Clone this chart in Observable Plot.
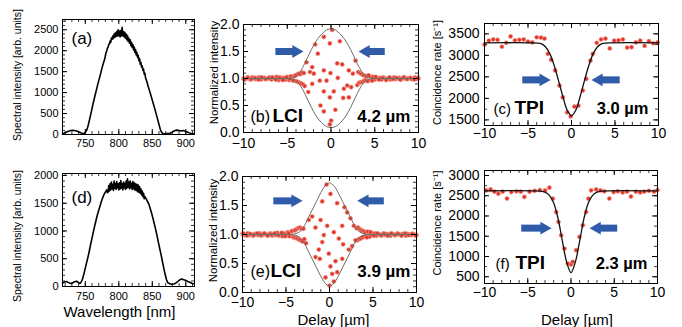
<!DOCTYPE html>
<html><head><meta charset="utf-8">
<script src="https://cdn.jsdelivr.net/npm/d3@7"></script>
<script src="https://cdn.jsdelivr.net/npm/@observablehq/plot@0.6"></script>
<style>
body{margin:0;background:#fff;}
#fig{position:relative;width:682px;height:327px;overflow:hidden;background:#fff;}
#fig svg{position:absolute;overflow:visible;}
</style></head><body><div id="fig"></div>
<script>
// ---------- DATA ----------
// (a) spectrum [nm, intensity]
const specA = [[716,20],[719,35],[722,60],[725,80],[728,95],[731,100],[734,95],[737,85],[740,65],[743,40],[746,25],[749,30],[751,70],[753,140],[755,260],[757,400],[759,540],[761,690],[763,830],[765,960],[767,1090],[769,1220],[771,1340],[773,1460],[775,1590],[777,1700],[779,1800],
[780,1880],[781,1960],[782,1990],[783,2060],[784,2080],[785,2150],[786,2160],[787,2230],[788,2200],[789,2300],[790,2270],[791,2350],[792,2290],[793,2400],[794,2320],[795,2430],[796,2340],[797,2460],[798,2350],[799,2500],[800,2360],[801,2470],[802,2330],[803,2480],[804,2360],[805,2560],[806,2350],[807,2460],[808,2330],[809,2440],[810,2300],[811,2400],[812,2260],[813,2360],[814,2220],[815,2300],[816,2180],[817,2260],[818,2120],[819,2200],[820,2080],[821,2150],[822,2020],[823,2090],[824,1960],[825,2030],[826,1900],[827,1960],[828,1840],[829,1890],[830,1760],[831,1810],[832,1680],[833,1720],[834,1610],[835,1640],[836,1530],[837,1560],[838,1440],[839,1460],[840,1350],
[842,1260],[844,1140],[846,1040],[848,930],[850,820],[852,710],[854,600],[856,480],[858,360],[860,240],[862,120],[864,50],[866,20],[869,15],[872,20],[875,25],[878,40],[881,70],[884,95],[887,105],[890,95],[893,85],[896,95],[899,80],[902,60],[905,40],[908,25],[911,20]];
// (d) spectrum
const specD = [[716,60],[719,80],[722,90],[725,70],[728,55],[731,65],[734,85],[737,95],[740,70],[742,55],[744,80],[746,140],[748,230],[750,330],[752,430],[754,530],[756,640],[758,760],[760,870],[762,980],[764,1090],[766,1190],[768,1290],[770,1370],[772,1450],[774,1530],[776,1600],[778,1660],[780,1700],[782,1740],[783,1690],
[784,1700],[785,1820],[786,1720],[787,1850],[788,1740],[789,1880],[790,1760],[791,1840],[792,1730],[793,1900],[794,1770],[795,1860],[796,1750],[797,1890],[798,1780],[799,1850],[800,1740],[801,1870],[802,1760],[803,1910],[804,1770],[805,1850],[806,1740],[807,1880],[808,1780],[809,1860],[810,1750],[811,1900],[812,1770],[813,1940],[814,1790],[815,1880],[816,1760],[817,1900],[818,1780],[819,1860],[820,1750],[821,1890],[822,1760],[823,1870],[824,1740],[825,1850],[826,1730],[827,1840],[828,1710],[829,1830],[830,1700],[831,1800],[832,1680],[833,1760],[834,1650],[835,1720],[836,1620],[837,1680],[838,1580],
[839,1620],[841,1580],[843,1530],[845,1480],[847,1400],[849,1320],[851,1230],[853,1130],[855,1030],[857,920],[859,800],[861,690],[863,580],[865,460],[867,340],[869,230],[871,130],[873,70],[876,50],[879,40],[882,45],[885,60],[888,90],[891,120],[894,135],[897,120],[900,110],[903,90],[906,75],[909,60],[912,50]];

// (b) LCI points [delay um, normalized intensity]
const lciBOuter = [[-10,1.00],[-9.8,0.99],[-9.6,1.01],[-9.4,1.00],[-9.2,0.98],[-9,1.02],[-8.8,1.00],[-8.6,0.99],[-8.4,1.01],[-8.2,1.02],[-8,0.98],[-7.8,1.00],[-7.6,1.01],[-7.4,0.99],[-7.2,1.00],[-7,1.02],[-6.8,0.98],[-6.6,1.01],[-6.4,0.99],[-6.2,1.03],[-6,0.97],[-5.8,1.02],[-5.6,0.99],[-5.4,1.01],[-5.2,0.98],[-5,1.03],[-4.8,0.97],[-4.6,1.04],[-4.4,0.97],[-4.2,1.05],
[-9.9,0.98],[-9.5,1.02],[-9.1,0.99],[-8.7,1.01],[-8.3,0.98],[-7.9,1.02],[-7.5,0.99],[-7.1,1.01],[-6.7,1.02],[-6.3,0.98],[-5.9,1.01],[-5.5,0.97],[-5.1,1.02],[-4.7,0.99],[-4.3,0.96],
[-4.1,1.05],[-4.0,0.95],[-3.9,1.07],[-3.8,0.94],[-3.7,1.09],[-3.6,0.92],[-3.5,1.08],[-3.4,0.91],[-3.3,1.11],[-3.2,0.89],[-3.1,1.10],[-3.0,0.86],
[3.0,0.88],[3.1,1.12],[3.2,0.92],[3.3,1.10],[3.4,0.93],[3.5,1.08],[3.6,0.94],[3.7,1.06],[3.8,0.96],[3.9,1.05],[4.0,0.97],[4.1,1.04],
[4.2,0.95],[4.4,1.04],[4.6,0.97],[4.8,1.03],[5,0.98],[5.2,1.02],[5.4,0.99],[5.6,1.01],[5.8,0.98],[6,1.02],[6.2,1.00],[6.4,0.99],[6.6,1.01],[6.8,0.98],[7,1.00],[7.2,1.02],[7.4,0.99],[7.6,1.00],[7.8,1.01],[8,0.98],[8.2,1.00],[8.4,1.02],[8.6,0.99],[8.8,1.00],[9,1.01],[9.2,0.99],[9.4,1.00],[9.6,1.02],[9.8,0.99],[10,1.00],
[4.3,1.06],[4.7,0.96],[5.1,1.03],[5.5,0.98],[5.9,1.01],[6.3,0.97],[6.7,1.02],[7.1,0.99],[7.5,1.01],[7.9,0.98],[8.3,1.02],[8.7,0.99],[9.1,1.01],[9.5,0.98],[9.9,1.01]];
const lciBInner = [[-2.8,1.30],[-2.6,0.75],[-2.4,1.12],[-2.15,1.21],[-2.15,0.90],[-1.96,1.09],[-1.81,1.63],[-1.5,1.46],[-1.28,0.96],[-1.2,0.50],[-0.82,1.77],[-0.82,1.15],[-0.82,0.76],[-0.82,0.39],[-0.51,0.96],[-0.13,1.65],[-0.13,0.65],[-0.13,0.15],[-0.06,1.10],[0.02,0.22],[0.13,1.90],[0.32,0.76],[0.5,0.42],[0.71,1.28],[0.78,1.01],[1.01,1.69],[1.28,1.26],[1.39,0.64],[1.47,0.81],[1.85,0.87],[2.04,1.15],[2.04,0.65],[2.3,0.84],[2.5,1.09],[2.8,1.33]];
const lciBUpper = [[-10,1],[-5,1.0],[-4.5,1.01],[-4,1.04],[-3.5,1.13],[-3,1.28],[-2.5,1.45],[-2,1.61],[-1.5,1.74],[-1,1.83],[-0.5,1.90],[0,1.92],[0.5,1.90],[1,1.83],[1.5,1.74],[2,1.61],[2.5,1.45],[3,1.28],[3.5,1.13],[4,1.04],[4.5,1.01],[5,1.0],[10,1]];
const lciBLower = [[-10,1],[-5,1.0],[-4.5,0.99],[-4,0.96],[-3.5,0.87],[-3,0.72],[-2.5,0.55],[-2,0.39],[-1.5,0.26],[-1,0.17],[-0.5,0.11],[0,0.09],[0.5,0.11],[1,0.17],[1.5,0.26],[2,0.39],[2.5,0.55],[3,0.72],[3.5,0.87],[4,0.96],[4.5,0.99],[5,1.0],[10,1]];

// (e) LCI points
const lciEOuter = [[-10,1.01],[-9.8,0.99],[-9.6,1.00],[-9.4,1.02],[-9.2,0.99],[-9,1.00],[-8.8,0.98],[-8.6,1.01],[-8.4,1.00],[-8.2,0.99],[-8,1.02],[-7.8,0.98],[-7.6,1.00],[-7.4,1.01],[-7.2,0.99],[-7,1.00],[-6.8,1.02],[-6.6,0.98],[-6.4,1.01],[-6.2,0.99],[-6,1.03],[-5.8,0.98],[-5.6,1.01],[-5.4,0.97],[-5.2,1.02],[-5,0.98],[-4.8,1.04],[-4.6,0.97],[-4.4,1.05],[-4.2,0.96],
[-9.9,1.02],[-9.5,0.98],[-9.1,1.01],[-8.7,0.99],[-8.3,1.02],[-7.9,0.99],[-7.5,1.02],[-7.1,0.98],[-6.7,1.00],[-6.3,1.02],[-5.9,0.99],[-5.5,1.03],[-5.1,0.97],[-4.7,1.02],[-4.3,1.06],
[-4.1,0.95],[-4.0,1.07],[-3.9,0.94],[-3.8,1.09],[-3.7,0.93],[-3.6,1.11],[-3.5,0.91],[-3.4,1.12],[-3.3,0.90],[-3.2,1.10],[-3.1,0.88],
[3.1,1.11],[3.2,0.90],[3.3,1.12],[3.4,0.92],[3.5,1.09],[3.6,0.93],[3.7,1.07],[3.8,0.95],[3.9,1.06],[4.0,0.96],[4.1,1.04],
[4.2,0.97],[4.4,1.05],[4.6,0.96],[4.8,1.03],[5,0.99],[5.2,1.02],[5.4,0.98],[5.6,1.01],[5.8,1.00],[6,0.98],[6.2,1.02],[6.4,0.99],[6.6,1.01],[6.8,1.00],[7,0.98],[7.2,1.01],[7.4,1.00],[7.6,0.99],[7.8,1.02],[8,1.00],[8.2,0.99],[8.4,1.01],[8.6,1.00],[8.8,0.98],[9,1.01],[9.2,1.00],[9.4,0.99],[9.6,1.01],[9.8,1.00],[10,0.99],
[4.3,0.95],[4.7,1.04],[5.1,0.98],[5.5,1.02],[5.9,0.99],[6.3,1.01],[6.7,0.98],[7.1,1.02],[7.5,0.99],[7.9,1.01],[8.3,0.98],[8.7,1.02],[9.1,0.99],[9.5,1.01],[9.9,0.98]];
const lciEInner = [[-3.0,1.10],[-2.9,0.92],[-2.7,0.85],[-2.38,1.25],[-1.99,1.31],[-1.61,1.12],[-1.61,0.61],[-1.23,0.74],[-1.11,0.58],[-1.03,1.25],[-0.84,1.57],[-0.84,0.87],[-0.65,0.99],[-0.46,0.26],[-0.34,1.86],[-0.27,1.15],[-0.08,0.67],[0.0,0.12],[0.11,1.70],[0.11,0.45],[0.31,0.32],[0.5,1.04],[0.5,0.19],[0.69,0.54],[0.88,1.54],[0.88,0.35],[1.07,0.93],[1.46,1.15],[1.46,0.58],[1.57,0.83],[1.72,1.47],[2.03,1.38],[2.22,0.74],[2.41,1.28],[2.6,0.80],[2.8,1.15],[3.0,0.90]];
const lciEUpper = [[-10,1],[-4.5,1.0],[-4,1.01],[-3.5,1.04],[-3,1.12],[-2.5,1.27],[-2,1.42],[-1.5,1.57],[-1,1.72],[-0.5,1.84],[0,1.89],[0.5,1.84],[1,1.72],[1.5,1.57],[2,1.42],[2.5,1.27],[3,1.12],[3.5,1.04],[4,1.01],[4.5,1.0],[10,1]];
const lciELower = [[-10,1],[-4.5,1.0],[-4,0.99],[-3.5,0.96],[-3,0.88],[-2.5,0.73],[-2,0.58],[-1.5,0.43],[-1,0.28],[-0.5,0.16],[0,0.11],[0.5,0.16],[1,0.28],[1.5,0.43],[2,0.58],[2.5,0.73],[3,0.88],[3.5,0.96],[4,0.99],[4.5,1.0],[10,1]];

// (c) TPI [delay um, coincidence rate]
const tpiC = [[-10,3250],[-9.5,3340],[-9,3370],[-8.5,3360],[-8,3200],[-7.5,3290],[-7,3440],[-6.5,3350],[-6,3360],[-5.5,3370],[-5,3320],[-4.5,3300],[-4,3420],[-3.5,3410],[-3.1,3390],[-2.72,3035],[-2.34,2895],[-1.88,2650],[-1.38,2297],[-1.0,2025],[-0.5,1676],[-0.1,1580],[0.34,1809],[0.8,1830],[1.3,2181],[1.69,2453],[2.18,2879],[2.45,3035],[2.9,3290],[3.4,3370],[3.9,3390],[4.4,3160],[4.9,3340],[5.4,3350],[5.9,3370],[6.4,3180],[6.9,3190],[7.4,3300],[7.9,3340],[8.4,3220],[8.9,3330],[9.4,3280],[9.9,3300]];
const tpiCFit = [[-10,3290],[-4,3285],[-3.5,3270],[-3,3200],[-2.5,3040],[-2,2770],[-1.5,2420],[-1,2050],[-0.5,1730],[0,1600],[0.5,1730],[1,2050],[1.5,2420],[2,2770],[2.5,3040],[3,3200],[3.5,3270],[4,3285],[10,3290]];
// (f) TPI
const tpiF = [[-9.8,2631],[-9.3,2656],[-8.85,2600],[-8.4,2549],[-7.9,2600],[-7.4,2430],[-6.9,2590],[-6.3,2610],[-5.8,2600],[-5.4,2470],[-4.8,2600],[-4.2,2620],[-3.6,2640],[-3.0,2631],[-2.5,2700],[-2.1,2427],[-1.71,2097],[-1.45,1851],[-1.14,1524],[-0.75,1196],[-0.37,827],[0,803],[0.2,868],[0.6,1155],[0.98,1483],[1.37,1770],[1.75,2097],[2.02,2427],[2.33,2631],[2.9,2656],[3.4,2631],[3.85,2610],[4.43,2430],[4.93,2590],[5.4,2610],[5.97,2580],[6.47,2600],[6.93,2480],[7.5,2600],[8.0,2580],[8.47,2600],[9.0,2620],[9.6,2600],[10,2640]];
const tpiFFit = [[-10,2620],[-3.5,2615],[-3,2590],[-2.5,2510],[-2,2320],[-1.5,1940],[-1,1380],[-0.5,860],[0,600],[0.5,860],[1,1380],[1.5,1940],[2,2320],[2.5,2510],[3,2590],[3.5,2615],[10,2620]];

// arrows {y, tail, tip}
const arrowsB = [{y:1.5, tail:-6.3, tip:-3.15},{y:1.5, tail:6.2, tip:3.15}];
const arrowsC = [{y:2430, tail:-5.6, tip:-2.4},{y:2430, tail:5.6, tip:2.3}];
const arrowsE = [{y:1.58, tail:-6.4, tip:-3.1},{y:1.58, tail:6.3, tip:3.2}];
const arrowsF = [{y:1700, tail:-5.7, tip:-2.25},{y:1700, tail:5.4, tip:2.15}];

// ticks
const specTicksX = [750,800,850,900];
const specMinorX = [720,730,740,750,760,770,780,790,800,810,820,830,840,850,860,870,880,890,900,910];
const specATicksY = [0,500,1000,1500,2000,2500];
const specAMinorY = [0,100,200,300,400,500,600,700,800,900,1000,1100,1200,1300,1400,1500,1600,1700,1800,1900,2000,2100,2200,2300,2400,2500,2600,2700];
const specDTicksY = [0,500,1000,1500,2000];
const specDMinorY = [0,100,200,300,400,500,600,700,800,900,1000,1100,1200,1300,1400,1500,1600,1700,1800,1900,2000];
const delayTicks = [-10,-5,0,5,10];
const delayMinor = [-10,-9,-8,-7,-6,-5,-4,-3,-2,-1,0,1,2,3,4,5,6,7,8,9,10];
const normTicks = [0,0.5,1,1.5,2];
const normMinor = [0,0.1,0.2,0.3,0.4,0.5,0.6,0.7,0.8,0.9,1,1.1,1.2,1.3,1.4,1.5,1.6,1.7,1.8,1.9,2];
const rateCTicks = [1500,2000,2500,3000,3500];
const rateCMinor = [1500,1750,2000,2250,2500,2750,3000,3250,3500];
const rateFTicks = [500,1000,1500,2000,2500,3000];
const rateFMinor = [500,750,1000,1250,1500,1750,2000,2250,2500,2750,3000];

// ---------- DRAWING ----------
const FONT = '"Liberation Sans", Arial, Helvetica, sans-serif';
const NARROW = '"Liberation Sans Narrow", "Arial Narrow", "Liberation Sans", Arial, sans-serif';
const RED = "#e2352b", BLUE = "#2f5ba8";
const X = d => d[0], Y = d => d[1];
const fmtInt = d => d < 0 ? "\u2212" + Math.abs(d) : String(d);
const fmt1 = d => d.toFixed(1);
const fig = document.getElementById("fig");

function arrowMarks(arr) {
  const right = arr.filter(d => d.tip > d.tail), left = arr.filter(d => d.tip < d.tail);
  return [
    Plot.ruleY(right, {y: d => d.y, x1: d => d.tail, x2: d => d.tip, insetRight: 8, stroke: BLUE, strokeWidth: 7}),
    Plot.ruleY(left, {y: d => d.y, x1: d => d.tip, x2: d => d.tail, insetLeft: 8, stroke: BLUE, strokeWidth: 7}),
    Plot.dot(right, {x: d => d.tip, y: d => d.y, symbol: "triangle", r: 4.8, rotate: 90, dx: -7.4, fill: BLUE, stroke: "none"}),
    Plot.dot(left, {x: d => d.tip, y: d => d.y, symbol: "triangle", r: 4.8, rotate: -90, dx: 7.4, fill: BLUE, stroke: "none"})
  ];
}

function panel(o) {
  const [sx, sy, W, H] = o.box;
  const [fx0, fy0, fx1, fy1] = o.frame;
  const fw = fx1 - fx0, fh = fy1 - fy0;
  const svg = Plot.plot({
    width: W, height: H,
    marginLeft: fx0 - sx, marginTop: fy0 - sy, marginRight: sx + W - fx1, marginBottom: sy + H - fy1,
    style: {background: "transparent", fontFamily: FONT, overflow: "visible"},
    x: {domain: o.xDomain, label: null},
    y: {domain: o.yDomain, label: null},
    marks: [
      ...o.marks,
      Plot.frame({stroke: "#000", strokeWidth: 1}),
      Plot.tickX(o.xMinor, {x: d => d, insetTop: fh - 3, strokeWidth: 0.8}),
      Plot.tickX(o.xMinor, {x: d => d, insetBottom: fh - 3, strokeWidth: 0.8}),
      Plot.tickX(o.xTicks, {x: d => d, insetTop: fh - 5}),
      Plot.tickX(o.xTicks, {x: d => d, insetBottom: fh - 5}),
      Plot.tickY(o.yMinor, {y: d => d, insetRight: fw - 3, strokeWidth: 0.8}),
      Plot.tickY(o.yMinor, {y: d => d, insetLeft: fw - 3, strokeWidth: 0.8}),
      Plot.tickY(o.yTicks, {y: d => d, insetRight: fw - 5}),
      Plot.tickY(o.yTicks, {y: d => d, insetLeft: fw - 5}),
      Plot.axisX(o.xTicks, {anchor: "bottom", tickSize: 0, tickPadding: o.xPad, fontSize: o.tickFont, tickFormat: o.xFmt, label: null}),
      Plot.axisY(o.yTicks, {anchor: "left", tickSize: 0, tickPadding: o.yPad, fontSize: o.tickFont, tickFormat: o.yFmt, label: null}),
      Plot.text([o.yLabel], {frameAnchor: "left", dx: o.yLabelDx, dy: o.yLabelDy, rotate: -90, textAnchor: "middle", lineAnchor: "middle", fontSize: o.yLabelSize, fontFamily: FONT, fill: "#000"}),
      ...(o.extra || [])
    ]
  });
  svg.style.position = "absolute";
  svg.style.left = sx + "px";
  svg.style.top = sy + "px";
  fig.appendChild(svg);
}

function lciMarks(outer, inner, upper, lower, arrows) {
  return [
    Plot.dot(outer.concat(inner), {x: X, y: Y, r: 2.1, fill: RED, stroke: "#f3a493", strokeWidth: 0.6}),
    Plot.line(upper, {x: X, y: Y, stroke: "#6e6e66", strokeWidth: 1, curve: "catmull-rom"}),
    Plot.line(lower, {x: X, y: Y, stroke: "#6e6e66", strokeWidth: 1, curve: "catmull-rom"}),
    ...arrowMarks(arrows)
  ];
}
function tpiMarks(pts, fit, arrows) {
  return [
    Plot.dot(pts, {x: X, y: Y, r: 2.1, fill: RED, stroke: "#f3a493", strokeWidth: 0.6}),
    Plot.line(fit, {x: X, y: Y, stroke: "#111", strokeWidth: 1.3, curve: "catmull-rom"}),
    ...arrowMarks(arrows)
  ];
}
function cornerLabels(letter, name, width, dy, dxL, dxN, dxW, fsL, fsN, fsW) {
  return [
    Plot.text([letter], {frameAnchor: "bottom-left", dx: dxL, dy: dy, textAnchor: "start", lineAnchor: "bottom", fontSize: fsL, fontFamily: FONT, fill: "#000"}),
    Plot.text([name], {frameAnchor: "bottom-left", dx: dxN, dy: dy, textAnchor: "start", lineAnchor: "bottom", fontSize: fsN, fontWeight: "bold", fontFamily: FONT, fill: "#000"}),
    Plot.text([width], {frameAnchor: "bottom-right", dx: dxW, dy: dy, textAnchor: "end", lineAnchor: "bottom", fontSize: fsW, fontWeight: "bold", fontFamily: FONT, fill: "#000"})
  ];
}

const specCommon = {xDomain: [716, 913], xTicks: specTicksX, xMinor: specMinorX, xFmt: fmtInt, yFmt: fmtInt, tickFont: 11, xPad: 5, yPad: 4,
  yLabel: "Spectral intensity [arb. units]", yLabelDx: -45, yLabelSize: 10.5};

// (a)
panel({...specCommon, box: [0, 0, 230, 160], frame: [62, 19, 194, 134], yDomain: [0, 2745],
  yTicks: specATicksY, yMinor: specAMinorY, yLabelDy: -2,
  marks: [Plot.line(specA, {x: X, y: Y, stroke: "#000", strokeWidth: 1.6})],
  extra: [Plot.text(["(a)"], {frameAnchor: "top-left", dx: 9, dy: 19, textAnchor: "start", lineAnchor: "middle", fontSize: 17, fontFamily: FONT, fill: "#000"})]});
// (d)
panel({...specCommon, box: [0, 160, 230, 167], frame: [62, 173, 194, 286], yDomain: [0, 2036],
  yTicks: specDTicksY, yMinor: specDMinorY, yLabelDy: 6, xPad: 6,
  marks: [Plot.line(specD, {x: X, y: Y, stroke: "#000", strokeWidth: 1.6})],
  extra: [
    Plot.text(["(d)"], {frameAnchor: "top-left", dx: 9, dy: 24, textAnchor: "start", lineAnchor: "middle", fontSize: 17, fontFamily: FONT, fill: "#000"}),
    Plot.text(["Wavelength [nm]"], {frameAnchor: "bottom-left", dx: 1, dy: 26, textAnchor: "start", lineAnchor: "middle", fontSize: 15, fontFamily: NARROW, fill: "#000"})
  ]});

const lciCommon = {xDomain: [-10, 10], yDomain: [0, 2], xTicks: delayTicks, xMinor: delayMinor, yTicks: normTicks, yMinor: normMinor,
  xFmt: fmtInt, yFmt: fmt1, tickFont: 14, yLabel: "Normalized intensity", yLabelSize: 11.5};
// (b)
panel({...lciCommon, box: [200, 0, 240, 160], frame: [243, 24, 418, 132], xPad: 6, yPad: 4, yLabelDx: -29, yLabelDy: -6,
  marks: lciMarks(lciBOuter, lciBInner, lciBUpper, lciBLower, arrowsB),
  extra: cornerLabels("(b)", "LCI", "4.2 \u00b5m", -11, 7, 29, -8, 16, 19, 17)});
// (e)
panel({...lciCommon, box: [200, 160, 240, 167], frame: [242, 176, 416, 292], xPad: 5, yPad: 4, yLabelDx: -29, yLabelDy: -4,
  marks: lciMarks(lciEOuter, lciEInner, lciEUpper, lciELower, arrowsE),
  extra: [...cornerLabels("(e)", "LCI", "3.9 \u00b5m", -16, 8, 28, -6, 16, 19, 17),
    Plot.text(["Delay [\u00b5m]"], {frameAnchor: "bottom", dx: 4, dy: 28, textAnchor: "middle", lineAnchor: "middle", fontSize: 15, fontFamily: FONT, fill: "#000"})]});

const tpiCommon = {xDomain: [-10, 10], xTicks: delayTicks, xMinor: delayMinor, xFmt: fmtInt, yFmt: fmtInt, tickFont: 14,
  yLabel: "Coincidence rate [s\u207b\u00b9]", yLabelSize: 11, yLabelDx: -47};
// (c)
panel({...tpiCommon, box: [425, 0, 257, 160], frame: [484, 23, 658, 125], yDomain: [1370, 3740], yTicks: rateCTicks, yMinor: rateCMinor,
  xPad: 3, yPad: 5, yLabelDy: -2,
  marks: tpiMarks(tpiC, tpiCFit, arrowsC),
  extra: cornerLabels("(c)", "TPI", "3.0 \u00b5m", -12, 9, 30, -10, 15, 19, 16.5)});
// (f)
panel({...tpiCommon, box: [425, 160, 257, 167], frame: [484, 170, 657, 283], yDomain: [333, 3123], yTicks: rateFTicks, yMinor: rateFMinor,
  xPad: 4, yPad: 5, yLabelDy: -4,
  marks: tpiMarks(tpiF, tpiFFit, arrowsF),
  extra: [...cornerLabels("(f)", "TPI", "2.3 \u00b5m", -15, 11, 31, -10, 15, 19, 16.5),
    Plot.text(["Delay [\u00b5m]"], {frameAnchor: "bottom", dx: 6, dy: 37, textAnchor: "middle", lineAnchor: "middle", fontSize: 15, fontFamily: FONT, fill: "#000"})]});
</script>
</body></html>
